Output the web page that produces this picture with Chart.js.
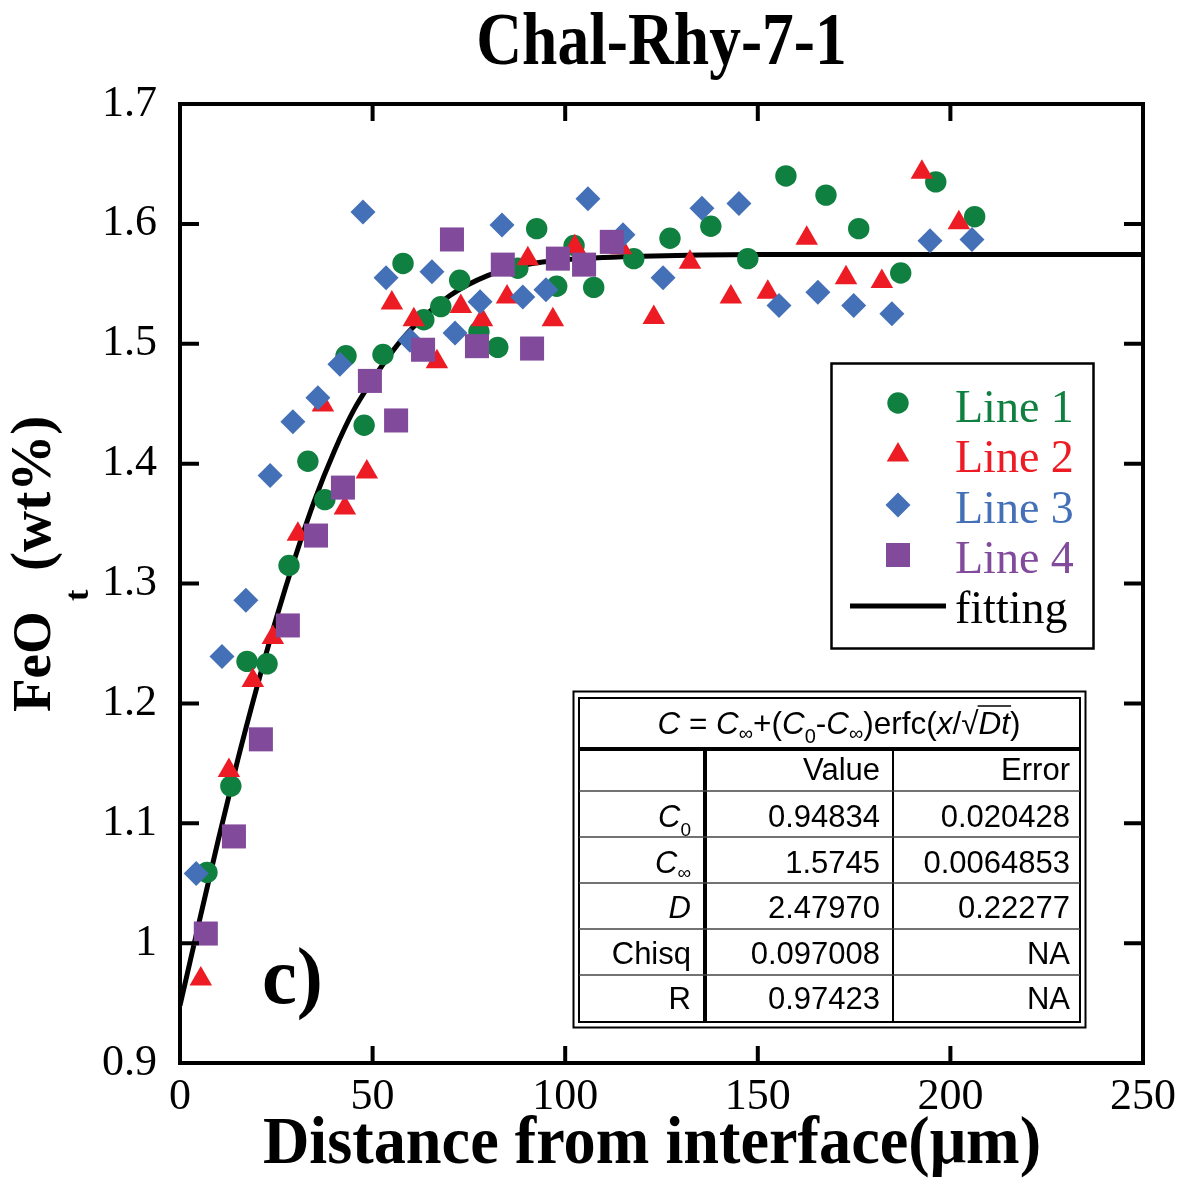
<!DOCTYPE html>
<html>
<head>
<meta charset="utf-8">
<script src="https://cdn.jsdelivr.net/npm/chart.js@4.4.1/dist/chart.umd.min.js"></script>
<style>
  html, body { margin: 0; padding: 0; background: #fff; }
  #wrap { width: 1190px; height: 1178px; }
</style>
</head>
<body>
<div id="wrap"><canvas id="chart"></canvas></div>
<script>
// values
const line1X = [7.0, 13.2, 17.4, 22.6, 28.3, 33.2, 37.6, 43.1, 47.8, 52.7, 57.9, 63.3, 67.7, 72.6, 77.6, 82.5, 87.7, 92.6, 97.8, 102.3, 107.4, 117.8, 127.2, 137.8, 147.4, 157.3, 167.7, 176.2, 187.1, 196.2, 206.3];
const line1Y = [1.059, 1.131, 1.235, 1.233, 1.315, 1.402, 1.370, 1.490, 1.432, 1.491, 1.567, 1.520, 1.531, 1.553, 1.510, 1.497, 1.563, 1.596, 1.548, 1.582, 1.547, 1.571, 1.588, 1.598, 1.571, 1.640, 1.624, 1.596, 1.559, 1.635, 1.606];

const line2X = [5.4, 12.7, 18.9, 24.1, 30.6, 37.1, 42.8, 48.5, 55.0, 60.7, 66.7, 72.9, 78.4, 84.9, 90.3, 96.8, 102.5, 114.5, 123.0, 132.4, 143.0, 152.6, 162.7, 172.9, 182.2, 192.6, 202.2];
const line2Y = [0.970, 1.144, 1.219, 1.255, 1.341, 1.449, 1.363, 1.393, 1.534, 1.520, 1.485, 1.531, 1.520, 1.539, 1.571, 1.520, 1.581, 1.580, 1.522, 1.568, 1.539, 1.543, 1.588, 1.555, 1.552, 1.643, 1.601];

const line3X = [4.2, 10.9, 17.1, 23.4, 29.3, 35.8, 41.5, 47.5, 53.5, 59.7, 65.4, 71.4, 77.9, 83.6, 89.0, 95.0, 105.9, 115.0, 125.4, 135.5, 145.1, 155.5, 165.6, 174.9, 184.8, 194.7, 205.6];
const line3Y = [1.058, 1.239, 1.286, 1.390, 1.435, 1.455, 1.483, 1.610, 1.555, 1.503, 1.560, 1.509, 1.535, 1.599, 1.539, 1.545, 1.621, 1.591, 1.555, 1.613, 1.617, 1.532, 1.543, 1.532, 1.525, 1.586, 1.587];

const line4X = [6.7, 14.0, 21.0, 28.0, 35.3, 42.3, 49.3, 56.1, 63.1, 70.6, 77.1, 83.8, 91.4, 98.1, 104.9, 112.1];
const line4Y = [1.008, 1.089, 1.170, 1.265, 1.340, 1.380, 1.469, 1.436, 1.495, 1.587, 1.498, 1.566, 1.496, 1.571, 1.566, 1.585];

const fitX = [0, 5, 10, 15, 20, 25, 30, 35, 40, 45, 50, 55, 60, 70, 80, 90, 100, 120, 150, 200, 250];
const fitY = [0.948, 1.018, 1.087, 1.153, 1.214, 1.271, 1.323, 1.370, 1.410, 1.444, 1.470, 1.493, 1.512, 1.540, 1.557, 1.566, 1.570, 1.573, 1.5745, 1.5745, 1.5745];

const seriesNames = ['Line 1', 'Line 2', 'Line 3', 'Line 4', 'fitting'];
const xTicks = [0, 50, 100, 150, 200, 250];
const yTicks = [0.9, 1.0, 1.1, 1.2, 1.3, 1.4, 1.5, 1.6, 1.7];

// fit result table
const tableParams = ['C0', 'Cinf', 'D', 'Chisq', 'R'];
const tableValues = ['0.94834', '1.5745', '2.47970', '0.097008', '0.97423'];
const tableErrors = ['0.020428', '0.0064853', '0.22277', 'NA', 'NA'];

const GREEN = '#108040', RED = '#ED1C24', BLUE = '#4470B7', PURPLE = '#824A9B';
const SERIF = '"Liberation Serif", "Times New Roman", serif';
const SANS = '"Liberation Sans", Arial, sans-serif';

const pts = (xs, ys) => xs.map((x, i) => ({ x: x, y: ys[i] }));

function drawMarker(ctx, style, x, y, r, color) {
  ctx.save();
  ctx.fillStyle = color;
  ctx.beginPath();
  if (style === 'circle') {
    ctx.arc(x, y, r, 0, Math.PI * 2);
  } else if (style === 'triangle') {
    ctx.moveTo(x, y - r);
    ctx.lineTo(x + r * 0.866, y + r / 2);
    ctx.lineTo(x - r * 0.866, y + r / 2);
    ctx.closePath();
  } else if (style === 'rectRot') {
    ctx.moveTo(x - r, y); ctx.lineTo(x, y - r); ctx.lineTo(x + r, y); ctx.lineTo(x, y + r);
    ctx.closePath();
  } else {
    const s = r * Math.SQRT1_2;
    ctx.rect(x - s, y - s, 2 * s, 2 * s);
  }
  ctx.fill();
  ctx.restore();
}

// draws a run of [text, style] pieces, style: n normal, i italic, s subscript, si sub-symbol
function drawPieces(ctx, pieces, x, y, size, align) {
  const fontOf = (st) => {
    if (st === 'i') return 'italic ' + size + 'px ' + SANS;
    if (st === 's' || st === 'si') return Math.round(size * 0.62) + 'px ' + SANS;
    return size + 'px ' + SANS;
  };
  let total = 0;
  pieces.forEach(p => { ctx.font = fontOf(p[1]); total += ctx.measureText(p[0]).width; });
  let cx = align === 'right' ? x - total : align === 'center' ? x - total / 2 : x;
  const spans = [];
  pieces.forEach(p => {
    ctx.font = fontOf(p[1]);
    const w = ctx.measureText(p[0]).width;
    let dy = 0;
    if (p[1] === 's') dy = size * 0.28;
    if (p[1] === 'si') dy = size * 0.18;
    ctx.fillText(p[0], cx, y + dy);
    spans.push([cx, w]);
    cx += w;
  });
  return spans;
}

const decor = {
  id: 'decor',
  beforeDraw(chart) {
    const ctx = chart.ctx;
    ctx.save();
    ctx.fillStyle = '#fff';
    ctx.fillRect(0, 0, chart.width, chart.height);
    ctx.restore();
  },
  afterDraw(chart) {
    const ctx = chart.ctx;
    const a = chart.chartArea;
    const xs = chart.scales.x, ys = chart.scales.y;
    ctx.save();

    // frame and inward ticks on all four sides
    ctx.strokeStyle = '#000';
    ctx.lineWidth = 4;
    ctx.strokeRect(a.left, a.top, a.right - a.left, a.bottom - a.top);
    ctx.beginPath();
    xTicks.forEach(v => {
      const px = xs.getPixelForValue(v);
      ctx.moveTo(px, a.bottom); ctx.lineTo(px, a.bottom - 17);
      ctx.moveTo(px, a.top); ctx.lineTo(px, a.top + 17);
    });
    yTicks.forEach(v => {
      const py = ys.getPixelForValue(v);
      ctx.moveTo(a.left, py); ctx.lineTo(a.left + 19, py);
      ctx.moveTo(a.right, py); ctx.lineTo(a.right - 19, py);
    });
    ctx.stroke();

    // chart title
    ctx.fillStyle = '#000';
    ctx.textAlign = 'center';
    ctx.textBaseline = 'alphabetic';
    ctx.save();
    ctx.translate((a.left + a.right) / 2, 64);
    ctx.scale(0.87, 1);
    ctx.font = 'bold 73px ' + SERIF;
    ctx.fillText('Chal-Rhy-7-1', 0, 0);
    ctx.restore();

    // x axis title
    ctx.save();
    ctx.translate(652, 1163);
    ctx.scale(0.96, 1);
    ctx.font = 'bold 67px ' + SERIF;
    ctx.fillText('Distance from interface(\u03bcm)', 0, 0);
    ctx.restore();

    // y axis title, rotated, with subscript t
    ctx.save();
    ctx.translate(50, 712);
    ctx.rotate(-Math.PI / 2);
    ctx.textAlign = 'left';
    ctx.font = 'bold 55px ' + SERIF;
    ctx.fillText('FeO', 0, 0);
    ctx.font = 'bold 34px ' + SERIF;
    ctx.fillText('t', 111, 38);
    ctx.font = 'bold 57px ' + SERIF;
    ctx.fillText('(wt%)', 141, 0);
    ctx.restore();

    // panel label
    ctx.save();
    ctx.translate(262, 1003);
    ctx.scale(0.98, 1);
    ctx.textAlign = 'left';
    ctx.font = 'bold 80px ' + SERIF;
    ctx.fillText('c)', 0, 0);
    ctx.restore();

    // legend
    ctx.lineWidth = 2.5;
    ctx.strokeRect(831.5, 363.5, 262, 285);
    const legStyles = ['circle', 'triangle', 'rectRot', 'rect'];
    const legColors = [GREEN, RED, BLUE, PURPLE];
    const legR = [10.7, 13, 12.5, 17];
    const legY = [403, 455, 505, 555];
    ctx.textAlign = 'left';
    ctx.font = '46px ' + SERIF;
    for (let i = 0; i < 4; i++) {
      drawMarker(ctx, legStyles[i], 898, legY[i], legR[i], legColors[i]);
      ctx.fillStyle = legColors[i];
      ctx.fillText(seriesNames[i], 955, 422 + i * 50.3);
    }
    ctx.beginPath();
    ctx.lineWidth = 5;
    ctx.moveTo(850, 606); ctx.lineTo(946, 606);
    ctx.stroke();
    ctx.fillStyle = '#000';
    ctx.fillText(seriesNames[4], 955, 623);

    // fit table
    ctx.lineWidth = 2;
    ctx.strokeRect(573.5, 691.5, 512, 336);
    ctx.strokeRect(579, 698, 501, 324);
    ctx.lineWidth = 4;
    ctx.beginPath();
    ctx.moveTo(579, 749); ctx.lineTo(1080, 749);
    ctx.moveTo(705, 749); ctx.lineTo(705, 1022);
    ctx.stroke();
    ctx.lineWidth = 2;
    ctx.beginPath();
    ctx.moveTo(893, 749); ctx.lineTo(893, 1022);
    ctx.stroke();
    ctx.lineWidth = 1.5;
    ctx.strokeStyle = '#444';
    ctx.beginPath();
    [791, 837, 883, 929, 975].forEach(y => { ctx.moveTo(579, y); ctx.lineTo(1080, y); });
    ctx.stroke();

    ctx.fillStyle = '#000';
    // formula header
    const f = drawPieces(ctx, [
      ['C', 'i'], [' = ', 'n'], ['C', 'i'], ['\u221e', 'si'], ['+(', 'n'], ['C', 'i'], ['0', 's'],
      ['-', 'n'], ['C', 'i'], ['\u221e', 'si'], [')erfc(', 'n'], ['x', 'i'], ['/', 'n'],
      ['\u221a', 'n'], ['Dt', 'i'], [')', 'n']
    ], 839, 734, 31.5, 'center');
    ctx.strokeStyle = '#000';
    ctx.lineWidth = 1.5;
    ctx.beginPath();
    ctx.moveTo(f[13][0] + f[13][1] - 1, 706);
    ctx.lineTo(f[14][0] + f[14][1] + 1, 706);
    ctx.stroke();

    ctx.font = '31px ' + SANS;
    ctx.textAlign = 'right';
    ctx.fillText('Value', 880, 780);
    ctx.fillText('Error', 1070, 780);
    const rowBase = [827, 873, 918, 964, 1009];
    const labelPieces = {
      C0: [['C', 'i'], ['0', 's']],
      Cinf: [['C', 'i'], ['\u221e', 'si']],
      D: [['D', 'i']],
      Chisq: [['Chisq', 'n']],
      R: [['R', 'n']]
    };
    tableParams.forEach((p, i) => {
      ctx.textAlign = 'left';
      drawPieces(ctx, labelPieces[p], 691, rowBase[i], 31, 'right');
      ctx.font = '31px ' + SANS;
      ctx.textAlign = 'right';
      ctx.fillText(tableValues[i], 880, rowBase[i]);
      ctx.fillText(tableErrors[i], 1070, rowBase[i]);
    });
    ctx.restore();
  }
};

const ctx = document.getElementById('chart').getContext('2d');
const chart = new Chart(ctx, {
  type: 'scatter',
  data: {
    datasets: [{
      label: seriesNames[0],
      data: pts(line1X, line1Y),
      pointStyle: 'circle',
      pointRadius: 10.7,
      backgroundColor: GREEN,
      borderWidth: 0,
      order: 4
    }, {
      label: seriesNames[1],
      data: pts(line2X, line2Y),
      pointStyle: 'triangle',
      pointRadius: 13,
      backgroundColor: RED,
      borderWidth: 0,
      order: 3
    }, {
      label: seriesNames[2],
      data: pts(line3X, line3Y),
      pointStyle: 'rectRot',
      pointRadius: 12.5,
      backgroundColor: BLUE,
      borderWidth: 0,
      order: 2
    }, {
      label: seriesNames[3],
      data: pts(line4X, line4Y),
      pointStyle: 'rect',
      pointRadius: 17,
      backgroundColor: PURPLE,
      borderWidth: 0,
      order: 1
    }, {
      label: seriesNames[4],
      type: 'line',
      data: pts(fitX, fitY),
      borderColor: '#000',
      borderWidth: 5,
      pointRadius: 0,
      cubicInterpolationMode: 'monotone',
      fill: false,
      order: 5
    }]
  },
  options: {
    responsive: true,
    maintainAspectRatio: false,
    animation: false,
    events: [],
    layout: { padding: { top: 104, right: 47, left: 0, bottom: 0 } },
    plugins: {
      legend: { display: false },
      tooltip: { enabled: false },
      title: { display: false }
    },
    scales: {
      x: {
        type: 'linear',
        min: 0,
        max: 250,
        afterFit(s) { s.height = 115; },
        afterBuildTicks(s) { s.ticks = xTicks.map(v => ({ value: v })); },
        grid: { display: false, drawTicks: false },
        border: { display: false },
        ticks: {
          padding: 8,
          color: '#000',
          maxRotation: 0,
          font: { family: SERIF, size: 44 },
          callback: v => String(v)
        }
      },
      y: {
        type: 'linear',
        min: 0.9,
        max: 1.7,
        afterFit(s) { s.width = 180; },
        afterBuildTicks(s) { s.ticks = yTicks.map(v => ({ value: v })); },
        grid: { display: false, drawTicks: false },
        border: { display: false },
        ticks: {
          padding: 23,
          color: '#000',
          font: { family: SERIF, size: 44 },
          callback: v => String(+v.toFixed(1))
        }
      }
    }
  },
  plugins: [decor]
});
</script>
</body>
</html>
